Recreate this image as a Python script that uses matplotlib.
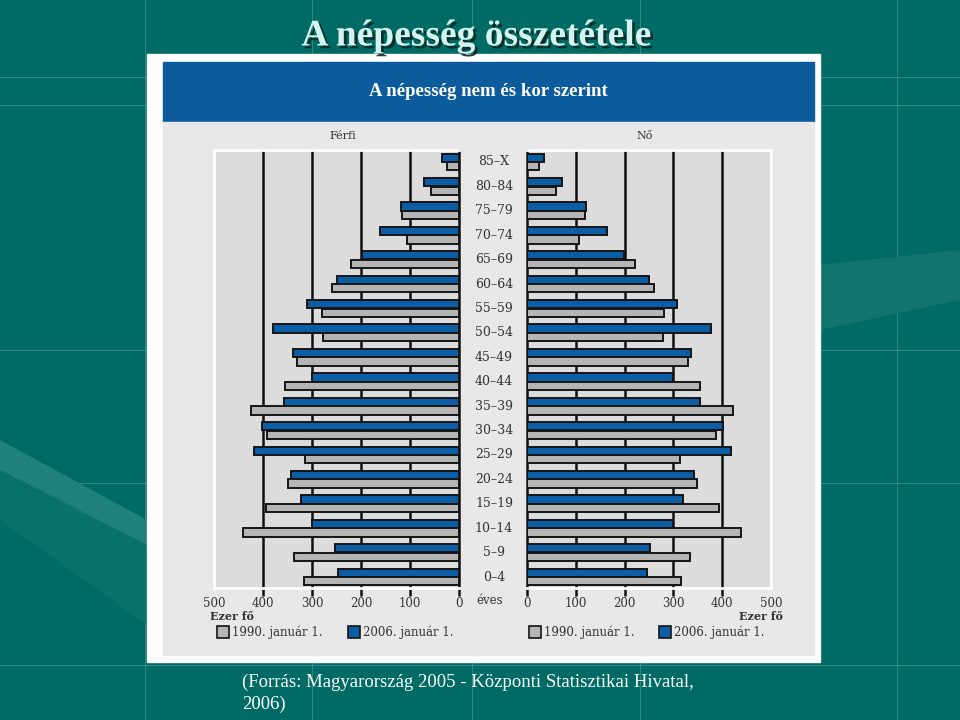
import matplotlib
matplotlib.use("Agg")
from matplotlib import pyplot as plt
from matplotlib.patches import Rectangle, Polygon
from matplotlib.lines import Line2D
from matplotlib.transforms import blended_transform_factory
import matplotlib.patheffects as pe
import numpy as np

# age groups, bottom to top
ages = ["0–4", "5–9", "10–14", "15–19", "20–24", "25–29", "30–34", "35–39", "40–44",
        "45–49", "50–54", "55–59", "60–64", "65–69", "70–74", "75–79", "80–84", "85–X"]
# thousand persons
male_1990 = [316, 337, 441, 394, 349, 314, 391, 425, 356, 331, 277, 280, 260, 221, 106, 117, 58, 25]
male_2006 = [246, 253, 301, 322, 342, 418, 402, 358, 301, 338, 379, 310, 249, 197, 162, 119, 71, 34]
female_1990 = [316, 335, 439, 393, 348, 313, 388, 423, 355, 329, 278, 280, 260, 221, 107, 118, 59, 25]
female_2006 = [245, 252, 300, 320, 342, 418, 401, 355, 300, 337, 377, 307, 250, 199, 163, 121, 72, 34]
ticks = [0, 100, 200, 300, 400, 500]

TEAL = "#006b64"
BLUE = "#0b5ea6"
GRAY = "#b5b5b5"
SERIF = "Liberation Serif"
SMALL = "DejaVu Serif"
INK = "#333333"

W, H = 960, 720
fig = plt.figure(figsize=(9.6, 7.2), dpi=100)
fig.patch.set_facecolor(TEAL)


def fx(x):
    return x / W


def fy(y):
    return 1 - y / H


def frect(x0, y0, x1, y1, **kw):
    fig.patches.append(Rectangle((fx(x0), fy(y1)), fx(x1 - x0), (y1 - y0) / H,
                                 transform=fig.transFigure, **kw))


# background decoration: light bands and faint grid lines
band1 = [(0, 440), (147, 520), (147, 545), (0, 470)]
band2 = [(0, 470), (147, 545), (147, 625), (0, 520)]
band3 = [(820, 265), (960, 250), (960, 300), (820, 330)]
for pts, c in [(band1, "#1f827a"), (band2, "#087169"), (band3, "#12756d")]:
    fig.patches.append(Polygon([(fx(a), fy(b)) for a, b in pts], closed=True,
                               transform=fig.transFigure, color=c, lw=0, zorder=0))
for x in [145, 312, 472, 640, 897]:
    fig.lines.append(Line2D([fx(x), fx(x)], [0, 1], transform=fig.transFigure,
                            color="#6fb0aa", lw=0.6, alpha=0.5, zorder=0))
for y in [77, 105, 350, 483, 665]:
    fig.lines.append(Line2D([0, 1], [fy(y), fy(y)], transform=fig.transFigure,
                            color="#6fb0aa", lw=0.6, alpha=0.5, zorder=0))

# panel
frect(147, 54, 820, 662, color="white", zorder=1)
frect(163, 62, 814, 122, color="#0c5b9c", zorder=2)
frect(163, 122, 814, 655, color="#e8e8e8", zorder=2)

fig.text(fx(476), fy(36), "A népesség összetétele", ha="center", va="center",
         family=SERIF, weight="bold", fontsize=27, color="#d4f4ef",
         path_effects=[pe.withSimplePatchShadow(offset=(2, -2), shadow_rgbFace="#0a2a28", alpha=0.9)])
fig.text(fx(488), fy(91), "A népesség nem és kor szerint", ha="center", va="center",
         family=SERIF, weight="bold", fontsize=13.5, color="white")
fig.text(fx(343), fy(136), "Férfi", ha="center", va="center", family=SMALL, fontsize=8, color=INK)
fig.text(fx(645), fy(136), "Nő", ha="center", va="center", family=SMALL, fontsize=8, color=INK)

y = np.arange(len(ages))
bh = 0.34
off = 0.175

ax_m = fig.add_axes([fx(214), fy(588), fx(459 - 214), (588 - 150) / H])
ax_f = fig.add_axes([fx(527), fy(588), fx(771 - 527), (588 - 150) / H])

for ax, v90, v06, side in [(ax_m, male_1990, male_2006, "left"), (ax_f, female_1990, female_2006, "right")]:
    ax.set_facecolor("#dcdcdc")
    ax.set_zorder(3)
    ax.barh(y + off, v06, height=bh, color=BLUE, edgecolor="#151515", lw=1.4, zorder=3)
    ax.barh(y - off, v90, height=bh, color=GRAY, edgecolor="#151515", lw=1.4, zorder=3)
    for t in ticks[1:-1]:
        ax.axvline(t, color="#111111", lw=1.8, zorder=1)
    ax.set_xlim(0, 500)
    ax.set_ylim(-0.45, 17.49)
    ax.set_yticks([])
    ax.set_xticks(ticks)
    ax.set_xticklabels([str(t) for t in ticks], family=SMALL, fontsize=8.5, color=INK)
    ax.tick_params(axis="x", length=6, width=1.8, color="#111111", pad=0.5)
    ax.xaxis.get_major_ticks()[-1].tick1line.set_visible(False)
    inner = "right" if side == "left" else "left"
    for s in ["top", "bottom", side]:
        ax.spines[s].set_color("white")
        ax.spines[s].set_linewidth(2)
    ax.spines[inner].set_color("#111111")
    ax.spines[inner].set_linewidth(1.8)
ax_m.invert_xaxis()

tr = blended_transform_factory(fig.transFigure, ax_m.transData)
for yi, lab in zip(y, ages):
    fig.text(fx(494), 0, lab, transform=tr, ha="center", va="center",
             family=SMALL, fontsize=9, color=INK).set_y(yi)
fig.text(fx(490), fy(601), "éves", ha="center", va="center", family=SMALL, fontsize=8.5, color=INK)

fig.text(fx(210), fy(616), "Ezer fő", ha="left", va="center", family=SMALL, fontsize=8,
         weight="bold", color=INK)
fig.text(fx(783), fy(616), "Ezer fő", ha="right", va="center", family=SMALL, fontsize=8,
         weight="bold", color=INK)

# legends
for x0, c, lab in [(217, GRAY, "1990. január 1."), (348, BLUE, "2006. január 1."),
                   (529, GRAY, "1990. január 1."), (659, BLUE, "2006. január 1.")]:
    frect(x0, 626, x0 + 12, 638, facecolor=c, edgecolor="#151515", lw=1.2, zorder=4)
    fig.text(fx(x0 + 15), fy(632), lab, ha="left", va="center", family=SMALL,
             fontsize=8.5, color=INK, zorder=4)

fig.text(fx(242), fy(682), "(Forrás: Magyarország 2005 - Központi Statisztikai Hivatal,",
         ha="left", va="center", family=SERIF, fontsize=13.5, color="white")
fig.text(fx(242), fy(704), "2006)", ha="left", va="center", family=SERIF, fontsize=13.5, color="white")

fig.savefig("out.png", dpi=100, facecolor=fig.get_facecolor())
